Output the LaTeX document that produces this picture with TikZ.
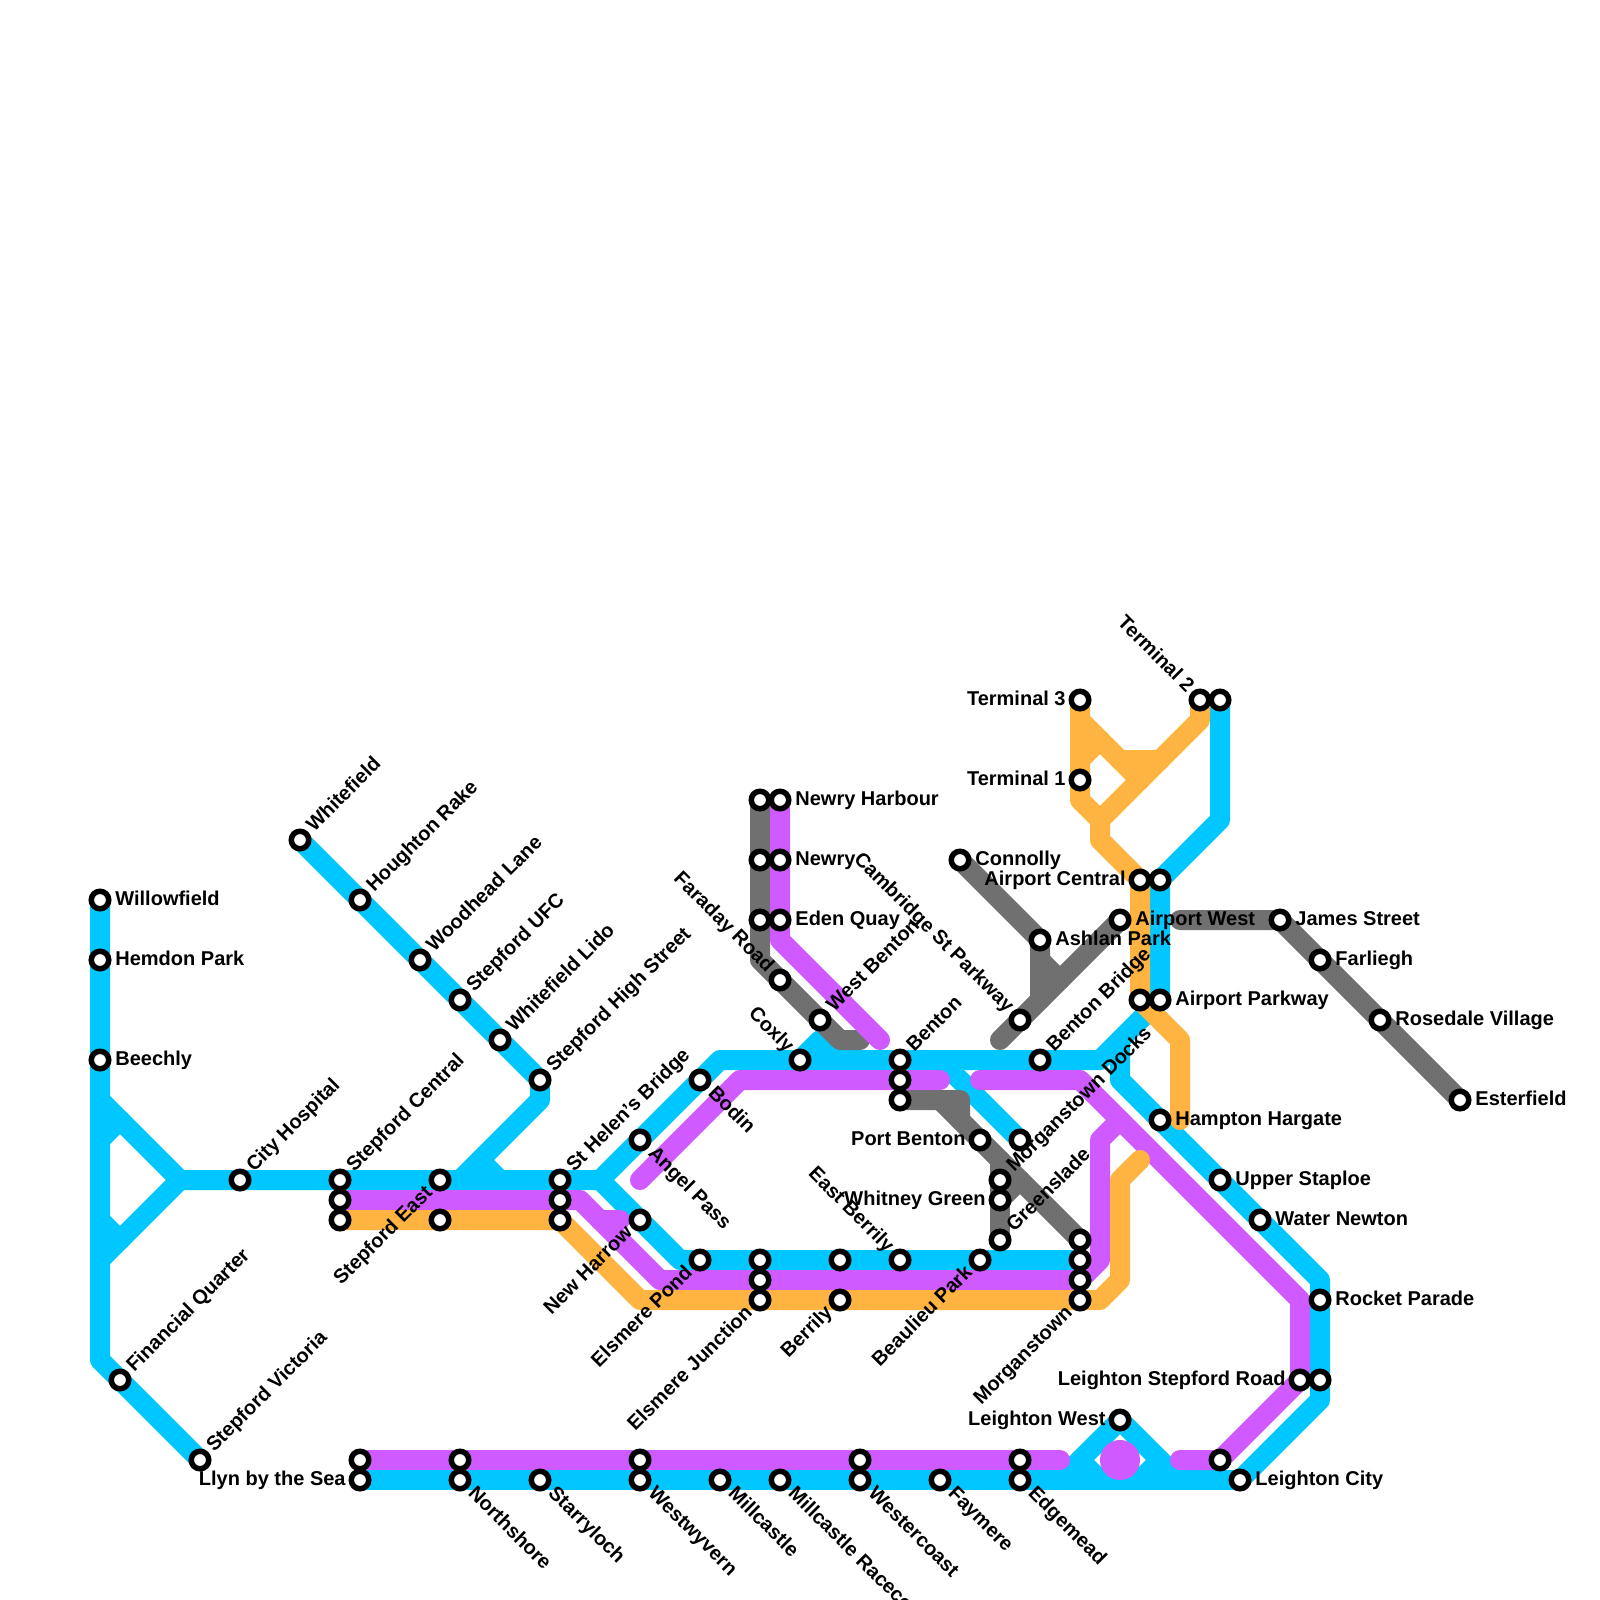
\documentclass[tikz,border=0pt]{standalone}
\usepackage{fontspec}
\setmainfont{Liberation Sans}
\definecolor{lblue}{RGB}{0,199,255}
\definecolor{lpurple}{RGB}{207,90,255}
\definecolor{lorange}{RGB}{255,179,64}
\definecolor{lgrey}{RGB}{112,112,112}
\tikzset{
  route/.style={line width=10pt,line cap=round,line join=round},
  blueline/.style={route,draw=lblue},
  purpleline/.style={route,draw=lpurple},
  orangeline/.style={route,draw=lorange},
  greyline/.style={route,draw=lgrey},
  stop/.style={circle,draw=black,fill=white,line width=2.75pt,minimum size=8.75pt,inner sep=0pt},
  lab/.style={font=\bfseries\fontsize{10pt}{12pt}\selectfont,inner sep=0pt,text=black},
  lab-r/.style={lab,anchor=base west,xshift=7.5pt,yshift=-2.5pt},
  lab-l/.style={lab,anchor=base east,xshift=-7pt,yshift=-2.5pt},
  lab-ur/.style={lab,rotate=45,anchor=base west,xshift=7.4pt,yshift=-2.5pt},
  lab-dr/.style={lab,rotate=-45,anchor=base west,xshift=7.5pt,yshift=-2.5pt},
  lab-ul/.style={lab,rotate=-45,anchor=base east,xshift=-7pt,yshift=-2.5pt},
  lab-dl/.style={lab,rotate=45,anchor=base east,xshift=-7pt,yshift=-2.5pt},
}
\def\labelled{%
willowfield/5/45/r/{Willowfield},hemdon/5/48/r/{Hemdon Park},beechly/5/53/r/{Beechly},
cityhosp/12/59/ur/{City Hospital},stepcentral/17/59/ur/{Stepford Central},
stepeast/22/59/dl/{Stepford East},sthelens/28/59/ur/{St Helen's Bridge},
finquarter/6/69/ur/{Financial Quarter},stepvictoria/10/73/ur/{Stepford Victoria},
whitefield/15/42/ur/{Whitefield},houghton/18/45/ur/{Houghton Rake},woodhead/21/48/ur/{Woodhead Lane},
stepufc/23/50/ur/{Stepford UFC},whitelido/25/52/ur/{Whitefield Lido},stephigh/27/54/ur/{Stepford High Street},
bodin/35/54/dr/{Bodin},angelpass/32/57/dr/{Angel Pass},newharrow/32/61/dl/{New Harrow},
elsmerepond/35/63/dl/{Elsmere Pond},elsmerejn/38/65/dl/{Elsmere Junction},berrily/42/65/dl/{Berrily},
eastberrily/45/63/ul/{East Berrily},beaulieu/49/63/dl/{Beaulieu Park},greenslade/50/62/ur/{Greenslade},
whitney/50/60/l/{Whitney Green},morganstown/54/65/dl/{Morganstown},portbenton/49/57/l/{Port Benton},
morgdocks/50/59/ur/{Morganstown Docks},benton/45/53/ur/{Benton},coxly/40/53/ul/{Coxly},
westbenton/41/51/ur/{West Benton},faraday/39/49/ul/{Faraday Road},edenquay/39/46/r/{Eden Quay},
newry/39/43/r/{Newry},newryharbour/39/40/r/{Newry Harbour},connolly/48/43/r/{Connolly},
ashlan/52/47/r/{Ashlan Park},airportwest/56/46/r/{Airport West},cambridge/51/51/ul/{Cambridge St Parkway},
bentonbridge/52/53/ur/{Benton Bridge},terminalthree/54/35/l/{Terminal 3},terminalone/54/39/l/{Terminal 1},
terminaltwo/60/35/ul/{Terminal 2},airportcentral/57/44/l/{Airport Central},airportparkway/58/50/r/{Airport Parkway},
hampton/58/56/r/{Hampton Hargate},upperstaploe/61/59/r/{Upper Staploe},waternewton/63/61/r/{Water Newton},
rocket/66/65/r/{Rocket Parade},james/64/46/r/{James Street},farliegh/66/48/r/{Farliegh},
rosedale/69/51/r/{Rosedale Village},esterfield/73/55/r/{Esterfield},leightonstep/65/69/l/{Leighton Stepford Road},
leightonwest/56/71/l/{Leighton West},leightoncity/62/74/r/{Leighton City},edgemead/51/74/dr/{Edgemead},
faymere/47/74/dr/{Faymere},westercoast/43/74/dr/{Westercoast},racecourse/39/74/dr/{Millcastle Racecourse},
millcastle/36/74/dr/{Millcastle},westwyvern/32/74/dr/{Westwyvern},starryloch/27/74/dr/{Starryloch},
northshore/23/74/dr/{Northshore},llyn/18/74/l/{Llyn by the Sea}}
\def\plain{%
stepcentralb/17/60,stepcentralc/17/61,stepeastb/22/61,sthelensb/28/60,sthelensc/28/61,
elsmerejnb/38/63,elsmerejnc/38/64,berrilyb/42/63,docksend/51/57,morgb/54/62,morgc/54/63,morgd/54/64,
bentonb/45/54,bentonc/45/55,newryharbourb/38/40,newryb/38/43,edenquayb/38/46,
terminaltwob/61/35,airportcentralb/58/44,airportparkwayb/57/50,leightonstepb/66/69,
leightoneast/61/73,edgemeadb/51/73,westercoastb/43/73,westwyvernb/32/73,northshoreb/23/73,llynb/18/73}
\begin{document}
\begin{tikzpicture}[x=10pt,y=-10pt]
\useasboundingbox (0,0) rectangle (80,80);
\fill[white] (0,0) rectangle (80,80);
\clip (0,0) rectangle (80,80);
\foreach \i/\x/\y/\k/\t in \labelled {\coordinate (\i) at (\x,\y);}
\foreach \i/\x/\y in \plain {\coordinate (\i) at (\x,\y);}
% blue
\draw[blueline] (willowfield) -- (5,68) -- (stepvictoria);
\draw[blueline] (5,55) -- (9,59) -- (5,63);
\draw[blueline] (5,57) -- (6,56);
\draw[blueline] (5,61) -- (6,62);
\draw[blueline] (9,59) -- (30,59) -- (36,53) -- (55,53) -- (airportparkway) -- (airportcentralb) -- (61,41) -- (terminaltwob);
\draw[blueline] (30,59) -- (34,63) -- (morgc);
\draw[blueline] (whitefield) -- (stephigh) -- (27,55) -- (23,59);
\draw[blueline] (24,58) -- (25,59);
\draw[blueline] (coxly) -- (41,52) -- (42,53);
\draw[blueline] (47,53) -- (docksend);
\draw[blueline] (56,52) -- (56,54) -- (66,64) -- (66,70) -- (leightoncity);
\draw[blueline] (llyn) -- (leightoncity);
\draw[blueline] (53,74) -- (leightonwest) -- (59,74);
\draw[blueline] (54,73) -- (55,74);
\draw[blueline] (58,73) -- (57,74);
% grey
\draw[greyline] (newryharbourb) -- (38,48) -- (42,52) -- (43,52);
\draw[greyline] (connolly) -- (ashlan) -- (52,50);
\draw[greyline] (52,48) -- (53,49);
\draw[greyline] (50,52) -- (airportwest);
\draw[greyline] (59,46) -- (james) -- (esterfield);
\draw[greyline] (bentonc) -- (48,55) -- (48,56) -- (morgb);
\draw[greyline] (47,55) -- (48,56);
\draw[greyline] (50,58) -- (greenslade);
\draw[greyline] (whitney) -- (51,59);
% purple
\draw[purpleline] (newryharbour) -- (39,47) -- (44,52);
\draw[purpleline] (stepcentralb) -- (29,60) -- (33,64) -- (morgd) -- (55,63) -- (55,57) -- (56,56);
\draw[purpleline] (30,61) -- (31,61);
\draw[purpleline] (32,59) -- (37,54) -- (47,54);
\draw[purpleline] (49,54) -- (54,54) -- (65,65) -- (leightonstep) -- (leightoneast) -- (59,73);
\draw[purpleline] (llynb) -- (53,73);
\fill[lpurple] (56,73) circle[radius=10pt];
% orange
\draw[orangeline] (stepcentralc) -- (28,61) -- (32,65) -- (55,65) -- (56,64) -- (56,59) -- (57,58);
\draw[orangeline] (terminalthree) -- (54,40) -- (55,41) -- (55,42) -- (airportcentral) -- (airportparkwayb) -- (59,52) -- (59,56);
\draw[orangeline] (54,36) -- (57,39);
\draw[orangeline] (54,38) -- (55,37);
\draw[orangeline] (56,38) -- (58,38);
\draw[orangeline] (terminaltwo) -- (60,36) -- (55,41);
% stations
\foreach \i/\x/\y/\k/\t in \labelled {\node[stop,name=S-\i] at (\i) {};}
\foreach \i/\x/\y in \plain {\node[stop,name=S-\i] at (\i) {};}
% labels
\foreach \i/\x/\y/\k/\t in \labelled {\node[lab-\k,name=L-\i] at (\i) {\t};}
\end{tikzpicture}
\end{document}
